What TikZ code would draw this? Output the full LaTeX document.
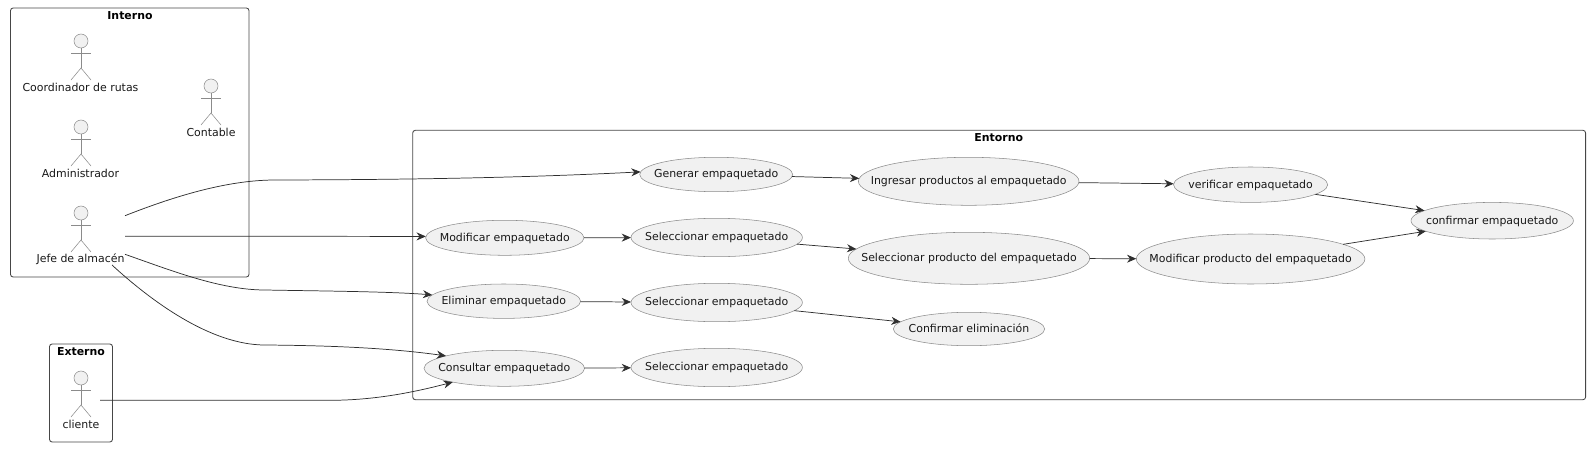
\documentclass[tikz,border=0pt]{standalone}
\usepackage{fontspec}
\setmainfont{DejaVu Sans}
\usetikzlibrary{arrows.meta,shapes.geometric}
\definecolor{ink}{HTML}{181818}
\definecolor{soft}{HTML}{F1F1F1}
\newcommand{\uctext}[1]{\makebox[0pt]{#1}}
\newcommand{\actorfig}[5]{%
  \node[actorhead] (#1head) at (#2,#3) {};
  \draw[actorline] (#1head.south) -- ++(0,20);
  \draw[actorline] (#2-10,#3+12) -- (#2+10,#3+12);
  \draw[actorline] (#2-10,#3+39) -- (#2,#3+27) -- (#2+10,#3+39);
  \node[plainlabel] (#1) at (#4,#3+46) {#5};
}
\tikzset{
  x=0.75pt,y=-0.75pt,
  uc/.style={ellipse,draw=ink!50,line width=0.4pt,fill=soft,inner sep=0pt,outer sep=0pt,
    text=ink,text height=7pt,text depth=2pt,font=\fontsize{8.2}{10}\selectfont},
  actorhead/.style={circle,draw=ink!50,line width=0.4pt,fill=soft,minimum size=10.5pt,inner sep=0pt,outer sep=0pt},
  actorline/.style={draw=ink!50,line width=0.4pt},
  plainlabel/.style={inner sep=0pt,text=ink,font=\fontsize{8.2}{10}\selectfont},
  frametitle/.style={inner sep=0pt,text=black,font=\fontsize{8.2}{10}\selectfont\bfseries},
  frameline/.style={draw=ink!80,line width=0.65pt,rounded corners=2pt},
  conn/.style={draw=ink!90,line width=0.55pt,-{Stealth[length=7pt,width=6pt,inset=2.3pt]}},
}
\begin{document}
\begin{tikzpicture}
\useasboundingbox (0,0) rectangle (1596,471);
% frames
\draw[frameline] (10.5,8) rectangle (249,277);
\draw[frameline] (49.5,344) rectangle (112.5,442);
\draw[frameline] (412.7,130.3) rectangle (1585.6,399.7);
\node[frametitle] (tInterno) at (130,15.5) {Interno};
\node[frametitle] (tExterno) at (81,352) {Externo};
\node[frametitle] (tEntorno) at (998.7,138) {Entorno};
% actors
\actorfig{coord}{81}{41}{80.5}{Coordinador de rutas}
\actorfig{admin}{81}{127}{80.5}{Administrador}
\actorfig{jefe}{81}{213}{80.5}{Jefe de almacén}
\actorfig{conta}{211}{86}{211}{Contable}
\actorfig{cli}{81}{378}{81}{cliente}
% use cases
\newcommand{\usecase}[6]{\node[uc,minimum width=#4*1.5pt,minimum height=#5*1.5pt] (#1) at (#2,#3) {\uctext{#6}};}
\usecase{gen}{716.2}{174.5}{76.5}{17.2}{Generar empaquetado}
\usecase{ing}{968.7}{181.3}{110.3}{24}{Ingresar productos al empaquetado}
\usecase{ver}{1250.6}{184.7}{77.1}{17.7}{verificar empaquetado}
\usecase{conf}{1492.2}{220.7}{81.2}{18.3}{confirmar empaquetado}
\usecase{mod}{504.8}{237.8}{79.2}{17.5}{Modificar empaquetado}
\usecase{selA}{716.7}{237.5}{85.7}{19.2}{Seleccionar empaquetado}
\usecase{selP}{969}{258.3}{120.7}{26}{Seleccionar producto del empaquetado}
\usecase{modP}{1250.6}{259}{114.3}{25}{Modificar producto del empaquetado}
\usecase{eli}{503.8}{301.2}{76.8}{17.2}{Eliminar empaquetado}
\usecase{selB}{716.7}{302.5}{85.7}{19.2}{Seleccionar empaquetado}
\usecase{cel}{969}{329}{75.7}{16.7}{Confirmar eliminación}
\usecase{con}{504.3}{368.3}{80.3}{18}{Consultar empaquetado}
\usecase{selC}{716.7}{367.5}{85.7}{19.2}{Seleccionar empaquetado}
% connector free ends at the actors
\coordinate (jefeA) at (125,215.7);
\coordinate (jefeB) at (125,236.2);
\coordinate (jefeC) at (125,254.3);
\coordinate (jefeD) at (112,265);
\coordinate (cliA) at (100,400.3);
% connectors
\draw[conn] (jefeA) .. controls (170,198) and (225,180) .. (275,180) .. controls (400,179.7) and (520,178) .. (gen.178.5);
\draw[conn] (jefeB) -- (mod.179);
\draw[conn] (jefeC) .. controls (170,270) and (220,290) .. (265,290) .. controls (320,291) and (390,291.5) .. (eli.175);
\draw[conn] (jefeD) .. controls (150,300) and (210,345) .. (265,345) .. controls (330,345.5) and (390,348) .. (con.168.5);
\draw[conn] (cliA) -- (330,400.3) .. controls (375,400.3) and (415,392) .. (con.195);
\draw[conn] (gen) -- (ing);
\draw[conn] (ing) -- (ver);
\draw[conn] (ver) -- (conf);
\draw[conn] (mod) -- (selA);
\draw[conn] (selA) -- (selP);
\draw[conn] (selP) -- (modP);
\draw[conn] (modP) -- (conf);
\draw[conn] (eli) -- (selB);
\draw[conn] (selB) -- (cel);
\draw[conn] (con) -- (selC);
\end{tikzpicture}
\end{document}
